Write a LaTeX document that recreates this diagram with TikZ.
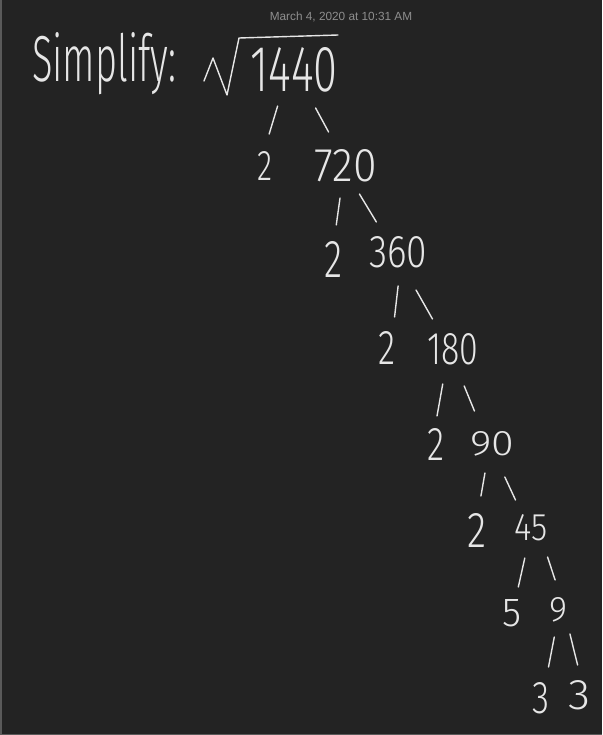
\documentclass[tikz,border=0pt]{standalone}
\usepackage{fontspec}
\usetikzlibrary{calc}
\newfontfamily\hand{Fira Sans Light}
\newfontfamily\datefont{Liberation Sans}
\definecolor{bg}{HTML}{232323}
\definecolor{ink}{HTML}{E6E6E6}
\definecolor{stamp}{HTML}{8E8E8E}
\definecolor{edge}{HTML}{5A5A5A}
\newcommand\hw[3]{\resizebox{#1pt}{#2pt}{\hand #3}}
\newcommand\brk[5]{\draw[br] ($(#1)!#3!(#2)+(#5,0)$) -- ($(#1)!#4!(#2)+(#5,0)$);}
\begin{document}
\begin{tikzpicture}[x=1pt,y=-1pt,
  num/.style={inner sep=0pt, text=ink, anchor=center},
  br/.style={draw=ink, line width=1.4pt, line cap=round, line join=round}]
\useasboundingbox (0,0) rectangle (602,735);
\fill[bg] (0,0) rectangle (602,735);
\draw[edge, line width=1.5pt] (0.75,0) -- (0.75,735);
\draw[edge, line width=1.5pt] (0,734.25) -- (602,734.25);
\node[text=stamp, inner sep=0pt, font=\datefont\fontsize{11.8}{13}\selectfont] (date) at (341,17) {March 4, 2020 at 10:31 AM};
\node[num, anchor=base west] (simp) at (32,82) {\resizebox{144pt}{49pt}{\hand Simplify:}};
\draw[br] (204,81) -- (213,58) -- (227,95) -- (239,38) -- (338,35);
\node[num] (r) at (294,70) {\hw{87}{44}{1440}};
\node[num] (a2) at (265,166) {\hw{15}{29}{2}};
\node[num] (n720) at (346,166) {\hw{62}{32}{720}};
\node[num] (b2) at (333,259) {\hw{18}{36}{2}};
\node[num] (n360) at (398,252) {\hw{58}{31}{360}};
\node[num] (c2) at (387,348) {\hw{17}{33}{2}};
\node[num] (n180) at (453,349) {\hw{51}{31}{180}};
\node[num] (d2) at (436,444) {\hw{17}{32}{2}};
\node[num] (n90) at (492,444) {\hw{44}{24}{90}};
\node[num] (e2) at (477,530) {\hw{19}{34}{2}};
\node[num] (n45) at (531,528) {\hw{33}{26}{45}};
\node[num] (f5) at (512,613) {\hw{19}{27}{5}};
\node[num] (n9) at (558,610) {\hw{18}{24}{9}};
\node[num] (g3) at (541,698) {\hw{17}{31}{3}};
\node[num] (h3) at (579,695) {\hw{22}{29}{3}};
\brk{r}{a2}{0.375}{0.667}{-5.5}
\brk{r}{n720}{0.396}{0.646}{1}
\brk{n720}{b2}{0.344}{0.634}{-1.5}
\brk{n720}{n360}{0.326}{0.651}{-3.5}
\brk{n360}{c2}{0.354}{0.677}{4}
\brk{n360}{n180}{0.392}{0.69}{-3.5}
\brk{n180}{d2}{0.368}{0.705}{-4}
\brk{n180}{n90}{0.389}{0.653}{-4}
\brk{n90}{e2}{0.337}{0.605}{-2}
\brk{n90}{n45}{0.393}{0.667}{-2.5}
\brk{n45}{f5}{0.353}{0.694}{0.5}
\brk{n45}{n9}{0.354}{0.634}{7}
\brk{n9}{g3}{0.307}{0.648}{1.5}
\brk{n9}{h3}{0.282}{0.647}{6}
\end{tikzpicture}
\end{document}
